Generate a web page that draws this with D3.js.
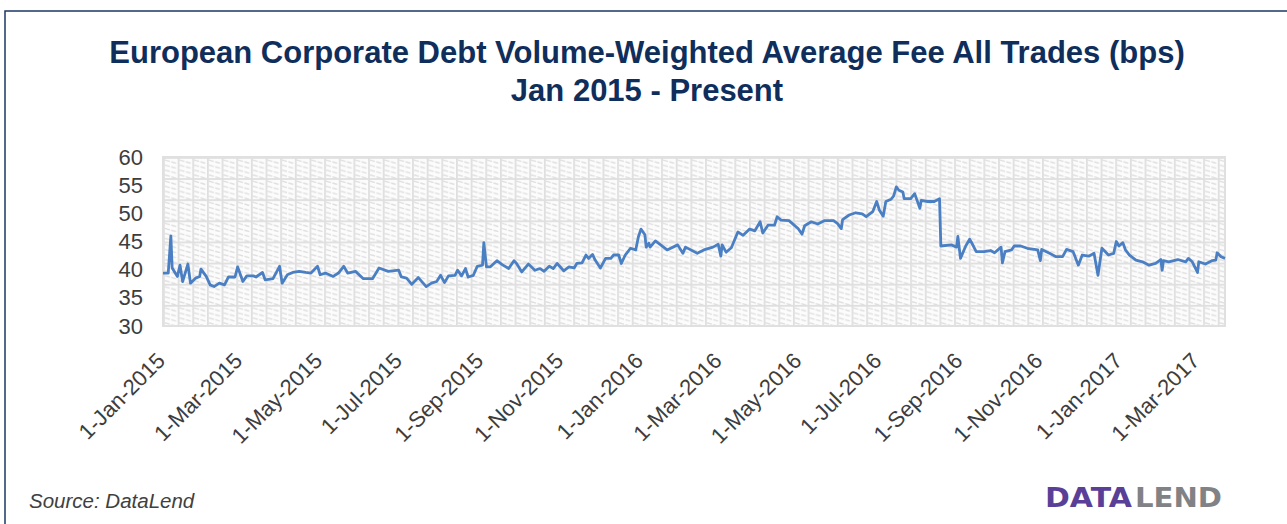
<!DOCTYPE html>
<html>
<head>
<meta charset="utf-8">
<script src="https://cdn.jsdelivr.net/npm/d3@7"></script>
<style>
  body { margin: 0; background: #fff; }
  svg { display: block; font-family: "Liberation Sans", Arial, sans-serif; }
</style>
</head>
<body>
<div id="chart"></div>
<script>
// Fee readings (bps)
const dates2015 = ['2015-01-01','2015-01-05','2015-01-07','2015-01-08','2015-01-12','2015-01-14','2015-01-16','2015-01-20','2015-01-22','2015-01-26',
    '2015-01-29','2015-01-30','2015-02-03','2015-02-06','2015-02-09','2015-02-13','2015-02-17','2015-02-20','2015-02-25','2015-02-27',
    '2015-03-03','2015-03-06','2015-03-11','2015-03-13','2015-03-18','2015-03-20','2015-03-26','2015-03-31','2015-04-02','2015-04-06',
    '2015-04-10','2015-04-15','2015-04-20','2015-04-24','2015-04-29','2015-05-01','2015-05-05','2015-05-11','2015-05-15','2015-05-19',
    '2015-05-22','2015-05-28','2015-06-03','2015-06-10','2015-06-15','2015-06-22','2015-06-30','2015-07-02','2015-07-06','2015-07-10',
    '2015-07-15','2015-07-21','2015-07-25','2015-07-29','2015-08-01','2015-08-04','2015-08-07','2015-08-12','2015-08-14','2015-08-17',
    '2015-08-20','2015-08-22','2015-08-26','2015-08-29','2015-09-02','2015-09-03','2015-09-05','2015-09-08','2015-09-13','2015-09-17',
    '2015-09-22','2015-09-26','2015-09-28','2015-10-02','2015-10-07','2015-10-12','2015-10-16','2015-10-19','2015-10-23','2015-10-26',
    '2015-10-29','2015-11-03','2015-11-07','2015-11-11','2015-11-13','2015-11-17','2015-11-20','2015-11-22','2015-11-25','2015-11-27',
    '2015-12-01','2015-12-05','2015-12-09','2015-12-11','2015-12-15','2015-12-17','2015-12-20','2015-12-24','2015-12-28','2015-12-30'];
const fees2015 = [39.4,39.4,46.0,40.3,38.8,40.8,37.9,41.0,37.6,38.5,
    38.8,40.1,38.8,37.3,37.0,37.6,37.3,38.7,38.7,40.5,
    37.9,38.9,38.9,38.7,39.5,38.2,38.4,40.6,37.6,39.1,
    39.5,39.7,39.5,39.4,40.6,39.1,39.4,38.8,39.4,40.6,
    39.4,39.7,38.4,38.4,40.3,39.7,39.9,38.7,38.5,37.4,
    38.6,37.0,37.6,37.9,39.0,37.7,38.9,39.0,39.9,38.9,
    40.2,38.7,39.0,40.6,40.8,44.8,40.5,40.5,41.6,40.9,
    40.2,41.6,41.1,39.6,41.0,39.9,40.2,39.7,40.6,40.2,
    41.1,39.8,40.5,40.3,41.1,41.2,42.6,42.0,42.7,41.7,
    40.3,42.0,42.0,42.6,42.6,41.1,42.6,43.8,43.5,45.8];

const dates2016 = ['2016-01-01','2016-01-04','2016-01-05','2016-01-07','2016-01-08','2016-01-12','2016-01-16','2016-01-21','2016-01-29','2016-02-02',
    '2016-02-04','2016-02-13','2016-02-18','2016-02-25','2016-02-29','2016-03-02','2016-03-03','2016-03-06','2016-03-10','2016-03-15',
    '2016-03-19','2016-03-24','2016-03-28','2016-04-01','2016-04-03','2016-04-07','2016-04-12','2016-04-14','2016-04-17','2016-04-23',
    '2016-04-27','2016-04-30','2016-05-03','2016-05-05','2016-05-10','2016-05-15','2016-05-20','2016-05-27','2016-05-30','2016-06-02',
    '2016-06-03','2016-06-08','2016-06-13','2016-06-18','2016-06-21','2016-06-26','2016-06-29','2016-07-01','2016-07-04','2016-07-06',
    '2016-07-10','2016-07-12','2016-07-14','2016-07-16','2016-07-19','2016-07-20','2016-07-25','2016-07-28','2016-08-01','2016-08-02',
    '2016-08-07','2016-08-12','2016-08-16','2016-08-17','2016-08-25','2016-08-29','2016-08-30','2016-09-01','2016-09-05','2016-09-08',
    '2016-09-10','2016-09-13','2016-09-19','2016-09-24','2016-09-27','2016-10-02','2016-10-03','2016-10-05','2016-10-10','2016-10-12',
    '2016-10-17','2016-10-22','2016-10-30','2016-11-01','2016-11-02','2016-11-08','2016-11-13','2016-11-18','2016-11-21','2016-11-26',
    '2016-11-30','2016-12-03','2016-12-08','2016-12-12','2016-12-15','2016-12-18','2016-12-23','2016-12-27','2016-12-29','2016-12-31'];
const fees2016 = [47.2,46.2,44.0,44.7,44.0,45.1,44.4,43.5,44.4,42.9,
    44.0,42.9,43.5,44.0,44.5,42.4,44.4,43.1,43.9,46.7,
    46.1,47.2,46.9,48.5,46.5,47.9,47.9,49.4,48.8,48.7,
    47.9,47.3,46.3,47.8,48.5,48.1,48.7,48.7,48.2,47.3,
    48.9,49.7,50.1,49.9,49.4,50.3,52.1,50.6,49.5,52.1,
    52.5,53.1,54.7,54.1,53.8,52.6,52.6,53.5,50.9,52.3,
    52.1,52.1,52.6,44.2,44.4,44.0,45.9,42.0,44.2,45.4,
    44.6,43.2,43.2,43.4,43.0,44.0,41.2,43.2,43.5,44.2,
    44.2,43.8,43.5,41.6,43.6,42.9,42.3,42.3,43.6,43.2,
    40.8,42.6,42.4,42.9,39.0,43.8,42.6,42.9,45.0,44.2];

const dates2017 = ['2017-01-03','2017-01-05','2017-01-08','2017-01-13','2017-01-18','2017-01-23','2017-01-28','2017-02-01','2017-02-02','2017-02-03',
    '2017-02-07','2017-02-14','2017-02-20','2017-02-22','2017-02-25','2017-03-01','2017-03-02','2017-03-07','2017-03-12','2017-03-15',
    '2017-03-16','2017-03-19','2017-03-22'];
const fees2017 = [44.8,43.5,42.6,41.7,41.4,40.8,41.1,41.8,39.9,41.6,
    41.4,41.8,41.4,42.0,41.4,39.5,41.4,41.0,41.6,41.7,
    43.0,42.3,42.0];

const yTicks = [30, 35, 40, 45, 50, 55, 60];
const xTickLabels = ['1-Jan-2015','1-Mar-2015','1-May-2015','1-Jul-2015','1-Sep-2015','1-Nov-2015','1-Jan-2016',
    '1-Mar-2016','1-May-2016','1-Jul-2016','1-Sep-2016','1-Nov-2016','1-Jan-2017','1-Mar-2017'];

const titleLines = ['European Corporate Debt Volume-Weighted Average Fee All Trades (bps)', 'Jan 2015 - Present'];

const width = 1287,
    height = 524,
    plot = { left: 163, right: 1225, top: 157, bottom: 326 },
    parseDate = d3.timeParse('%Y-%m-%d'),
    parseTick = d3.timeParse('%d-%b-%Y');

const series = []
    .concat(dates2015.map((d, i) => ({ date: parseDate(d), fee: fees2015[i] })))
    .concat(dates2016.map((d, i) => ({ date: parseDate(d), fee: fees2016[i] })))
    .concat(dates2017.map((d, i) => ({ date: parseDate(d), fee: fees2017[i] })));

const x = d3.scaleTime()
    .domain(d3.extent(series, d => d.date))
    .range([plot.left, plot.right]);

const y = d3.scaleLinear()
    .domain([d3.min(yTicks), d3.max(yTicks)])
    .range([plot.bottom, plot.top]);

const svg = d3.select('#chart')
    .append('svg')
    .attr('width', width)
    .attr('height', height);

svg.append('rect')
    .attr('width', width)
    .attr('height', height)
    .attr('fill', '#fff');

// Outer frame (only left and top edges are visible)
svg.append('rect')
    .attr('x', 5)
    .attr('y', 11)
    .attr('width', width + 20)
    .attr('height', height + 20)
    .attr('fill', 'none')
    .attr('stroke', '#1c3763')
    .attr('stroke-width', 1.5);

// Title
svg.append('g')
    .selectAll('text')
    .data(titleLines)
    .join('text')
    .attr('x', 647)
    .attr('y', (d, i) => 63 + i * 38)
    .attr('text-anchor', 'middle')
    .attr('font-size', 31)
    .attr('font-weight', 'bold')
    .attr('fill', '#102e5c')
    .text(d => d);

// Plot area pattern: light grid with dashed diagonal strokes
const cellW = 14.65, cellH = 21.125;
const pattern = svg.append('defs')
    .append('pattern')
    .attr('id', 'hatch')
    .attr('patternUnits', 'userSpaceOnUse')
    .attr('x', plot.left)
    .attr('y', plot.top)
    .attr('width', cellW)
    .attr('height', cellH);

pattern.append('rect')
    .attr('width', cellW)
    .attr('height', cellH)
    .attr('fill', '#fcfcfc');

pattern.selectAll('line')
    .data(d3.range(4))
    .join('line')
    .attr('x1', 2)
    .attr('y1', i => 3 + i * 5)
    .attr('x2', 14)
    .attr('y2', i => 6.5 + i * 5)
    .attr('stroke', '#dedede')
    .attr('stroke-width', 1.3)
    .attr('stroke-dasharray', '5,1.5');

pattern.append('rect')
    .attr('width', 1.8)
    .attr('height', cellH)
    .attr('fill', '#dfdfdf');

pattern.append('rect')
    .attr('width', cellW)
    .attr('height', 1.8)
    .attr('fill', '#dfdfdf');

svg.append('rect')
    .attr('x', plot.left)
    .attr('y', plot.top)
    .attr('width', plot.right - plot.left)
    .attr('height', plot.bottom - plot.top)
    .attr('fill', 'url(#hatch)')
    .attr('stroke', '#e0e0e0')
    .attr('stroke-width', 2);

// Y axis labels
const yAxis = svg.append('g')
    .attr('transform', `translate(${plot.left},0)`)
    .call(d3.axisLeft(y).tickValues(yTicks).tickSize(0).tickPadding(20));

yAxis.select('.domain').remove();
yAxis.selectAll('text')
    .attr('font-size', 22)
    .attr('font-family', '"Liberation Sans", Arial, sans-serif')
    .attr('fill', '#3d3d3d');

// X axis labels, rotated
const xAxis = svg.append('g')
    .attr('transform', `translate(0,${plot.bottom})`)
    .call(d3.axisBottom(x)
        .tickValues(xTickLabels.map(parseTick))
        .tickSize(0)
        .tickFormat((d, i) => xTickLabels[i]));

xAxis.select('.domain').remove();
xAxis.selectAll('text')
    .attr('x', 0)
    .attr('y', 0)
    .attr('dy', 0)
    .attr('transform', 'translate(3,36) rotate(-45)')
    .attr('text-anchor', 'end')
    .attr('font-size', 22)
    .attr('font-family', '"Liberation Sans", Arial, sans-serif')
    .attr('fill', '#3d3d3d');

// Fee line
const line = d3.line()
    .x(d => x(d.date))
    .y(d => y(d.fee));

svg.append('path')
    .datum(series)
    .attr('fill', 'none')
    .attr('stroke', '#4a7fc3')
    .attr('stroke-width', 2.8)
    .attr('stroke-linejoin', 'round')
    .attr('d', line);

// Footer
svg.append('text')
    .attr('x', 29)
    .attr('y', 508)
    .attr('font-size', 20.5)
    .attr('font-style', 'italic')
    .attr('fill', '#404040')
    .text('Source: DataLend');

svg.append('text')
    .attr('x', 1045)
    .attr('y', 507)
    .attr('font-family', '"DejaVu Sans", sans-serif')
    .attr('font-size', 27)
    .attr('font-weight', 'bold')
    .attr('fill', '#5a3f98')
    .attr('textLength', 87)
    .attr('lengthAdjust', 'spacingAndGlyphs')
    .text('DATA');

svg.append('text')
    .attr('x', 1135)
    .attr('y', 507)
    .attr('font-family', '"DejaVu Sans", sans-serif')
    .attr('font-size', 27)
    .attr('font-weight', 'bold')
    .attr('fill', '#818285')
    .attr('textLength', 87)
    .attr('lengthAdjust', 'spacingAndGlyphs')
    .text('LEND');
</script>
</body>
</html>
